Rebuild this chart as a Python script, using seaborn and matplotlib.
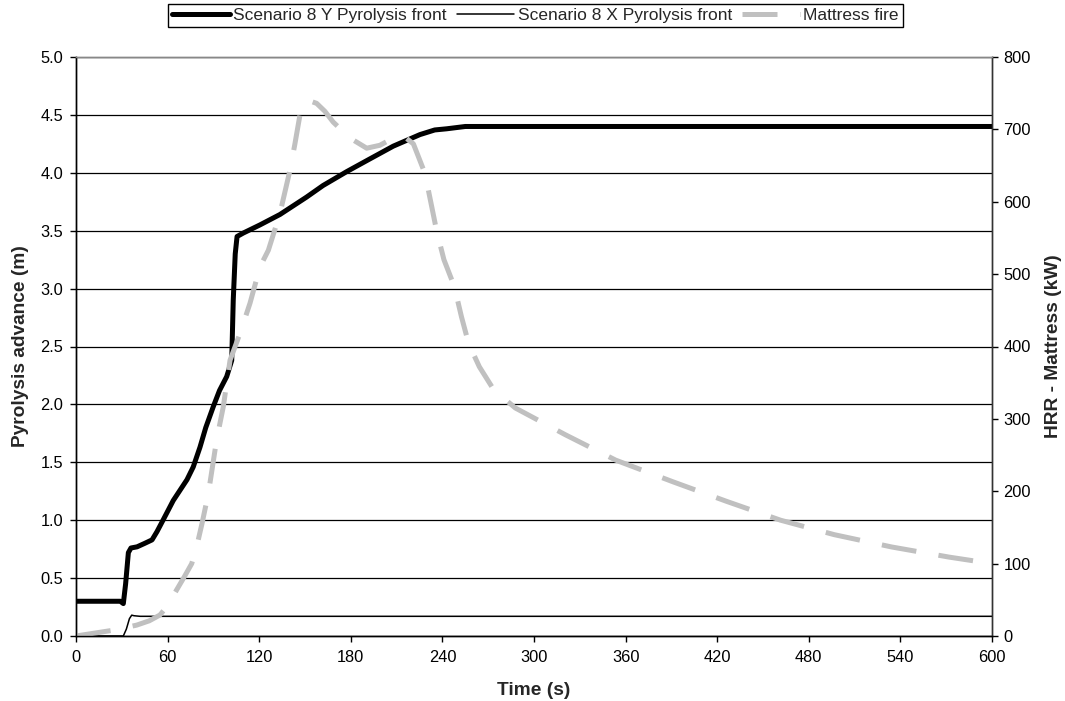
import matplotlib
matplotlib.use("Agg")
import matplotlib.pyplot as plt
import seaborn as sns
import pandas as pd
import numpy as np

# ---- data ----
t_front_y = [0, 29, 31, 32.5, 34.3, 36, 40, 45, 49.8, 53, 57, 63.7, 72.7, 76.8, 81.2, 85,
             89.9, 94, 98.7, 102, 103, 104.3, 105.5, 109.6, 120.5, 133.6, 151, 161.8,
             177.3, 192.5, 207.8, 225.3, 235, 242.8, 255, 600]
front_y = [0.30, 0.30, 0.28, 0.45, 0.72, 0.76, 0.77, 0.80, 0.83, 0.90, 1.00, 1.17, 1.35,
           1.46, 1.63, 1.80, 1.98, 2.12, 2.24, 2.38, 2.90, 3.30, 3.45, 3.48, 3.55, 3.64,
           3.79, 3.89, 4.01, 4.12, 4.23, 4.33, 4.37, 4.38, 4.40, 4.40]

t_front_x = [0, 31, 33, 35, 36.5, 38, 42, 600]
front_x = [0.0, 0.0, 0.06, 0.15, 0.18, 0.175, 0.17, 0.17]

t_hrr = [0, 24.4, 39.7, 48, 55, 60, 66, 71, 75.8, 79, 82.5, 86.7, 92.1, 96.5, 100.9,
         107.4, 114, 120.5, 126, 133.6, 140.2, 143.4, 146.7, 149.5, 152.1, 157.6, 163,
         168.5, 179.5, 190.4, 199, 207.8, 215, 221, 228.6, 236.3, 241, 247.8, 252.5,
         257.2, 264.2, 273.7, 287.8, 320.6, 353.5, 391.1, 426.2, 461.5, 496.7, 534.3,
         571.9, 600]
hrr = [0, 8, 15, 21, 29, 42, 64, 82, 100, 123, 155, 197, 271, 317, 381, 418, 460, 510,
       533, 584, 644, 680, 720, 735, 740, 736, 725, 710, 688, 674, 678, 688, 690, 680,
       639, 559, 520, 483, 441, 404, 372, 340, 315, 278, 243, 213, 186, 160, 140, 123,
       109, 100]

x_ticks = list(range(0, 601, 60))
y_ticks = [0.0, 0.5, 1.0, 1.5, 2.0, 2.5, 3.0, 3.5, 4.0, 4.5, 5.0]
y2_ticks = list(range(0, 801, 100))

labels = ["Scenario 8 Y Pyrolysis front", "Scenario 8 X Pyrolysis front", "Mattress fire"]

# ---- style ----
sns.set_theme(style="white")
plt.rcParams['font.family'] = ['Liberation Sans', 'DejaVu Sans']

fig = plt.figure(figsize=(10.65, 7.01), dpi=100)
ax = fig.add_axes([76/1065, 1 - 636/701, (992-76)/1065, (636-57)/701])
ax2 = ax.twinx()

df_y = pd.DataFrame({"t": t_front_y, "v": front_y})
df_x = pd.DataFrame({"t": t_front_x, "v": front_x})
df_h = pd.DataFrame({"t": t_hrr, "v": hrr})

sns.lineplot(data=df_y, x="t", y="v", ax=ax, color="black", linewidth=3.6,
             sort=False, estimator=None, label=labels[0], legend=False, zorder=3)
sns.lineplot(data=df_x, x="t", y="v", ax=ax, color="black", linewidth=1.1,
             sort=False, estimator=None, label=labels[1], legend=False, zorder=3)
sns.lineplot(data=df_h, x="t", y="v", ax=ax2, color="#C0C0C0", linewidth=3.6,
             sort=False, estimator=None, label=labels[2], legend=False)
ax2.lines[0].set_dashes((7, 4.5))
ax2.lines[0].set_dash_capstyle("butt")

ax.set_xlim(0, 600)
ax.set_ylim(0, 5.0)
ax2.set_ylim(0, 800)
ax.set_xticks(x_ticks)
ax.set_yticks(y_ticks)
ax.set_yticklabels([f"{v:.1f}" for v in y_ticks])
ax2.set_yticks(y2_ticks)

ax.yaxis.grid(True, color="black", linewidth=0.9)
ax.xaxis.grid(False)
ax.set_axisbelow(True)

for a in (ax, ax2):
    for s in a.spines.values():
        s.set_linewidth(1.0)
        s.set_color("black")
    a.spines["top"].set_color("#888888")
    a.spines["right"].set_color("#333333")
    a.tick_params(labelsize=11.8, colors="black", length=4, width=1, direction="out")
ax.tick_params(axis="x", bottom=True, pad=6)
ax.tick_params(axis="y", left=True, pad=5.4)
ax2.tick_params(axis="y", right=True, pad=4.3)

ax.set_xlabel("Time (s)", fontsize=13.8, fontweight="bold", labelpad=12)
ax.set_ylabel("Pyrolysis advance (m)", fontsize=13.8, fontweight="bold", labelpad=8)
ax2.set_ylabel("HRR - Mattress (kW)", fontsize=13.8, fontweight="bold", labelpad=10)

handles = ax.lines[:2] + ax2.lines[:1]
leg = fig.legend(handles, labels, loc="upper center", bbox_to_anchor=(535.5/1065, 0.995),
                 ncol=3, fontsize=12.5, frameon=True, fancybox=False, framealpha=1,
                 edgecolor="black", handlelength=3.3, columnspacing=0.6,
                 handletextpad=0.2, borderpad=0.25, borderaxespad=0)
leg.get_frame().set_linewidth(1.0)

fig.savefig("out.png", dpi=100)
